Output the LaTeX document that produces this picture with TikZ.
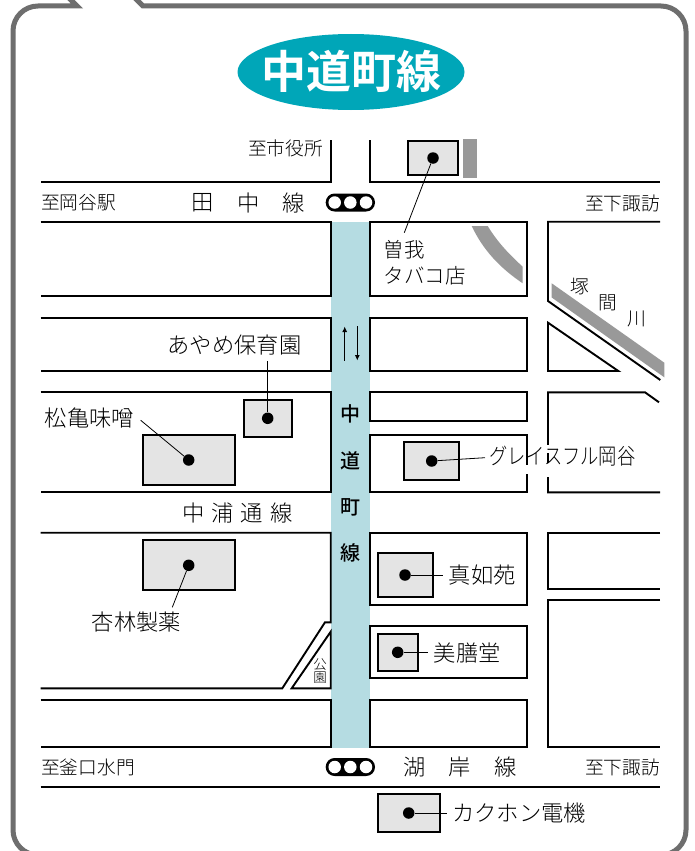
\documentclass[tikz,border=0pt]{standalone}
\usetikzlibrary{shapes.geometric,arrows.meta}
\usepackage{graphicx}
\usepackage{fontspec}
\setmainfont{Noto Sans CJK JP Light}
\newfontfamily\jpb{Noto Sans CJK JP Bold}
\newfontfamily\jpm{Noto Sans CJK JP Medium}
\definecolor{frameg}{HTML}{6E6E6E}
\definecolor{riverg}{HTML}{999999}
\definecolor{bldg}{HTML}{E4E4E4}
\definecolor{teal}{HTML}{00A6B8}
\definecolor{roadb}{HTML}{B5DCE2}
\newcommand{\fs}[1]{\fontsize{#1}{#1}\selectfont}
\tikzset{
  road/.style={draw=black,line width=1.9pt,line join=miter},
  bld/.style={draw=black,fill=bldg,line width=1.9pt},
  dotmark/.style={circle,fill=black,inner sep=0pt,minimum size=11.5pt},
  leader/.style={draw=black,line width=0.8pt},
  lab/.style={inner sep=0pt,font=\fs{22.3}},
  small/.style={inner sep=0pt,font=\fs{18.7}},
  sigbody/.style={fill=black,rounded corners=8.9pt},
  siglamp/.style={circle,fill=white,inner sep=0pt,minimum size=12.5pt},
}
\begin{document}
\begin{tikzpicture}[x=1pt,y=-1pt]
\useasboundingbox (0,0) rectangle (695,851);
\fill[white] (0,0) rectangle (695,851);
% frame
\draw[frameg,line width=5pt,line join=miter]
  (68,-3) -- (77,6) -- (38,6) arc[start angle=270,end angle=180,radius=25] -- (13,830)
  arc[start angle=180,end angle=90,radius=25] -- (661,855)
  arc[start angle=90,end angle=0,radius=25] -- (686,31)
  arc[start angle=0,end angle=-90,radius=25] -- (143,6) -- (134,-3);
% title
\node[ellipse,fill=teal,minimum width=227pt,minimum height=76pt,inner sep=0pt] (title) at (351,72) {};
\node[inner sep=0pt,text=white,font=\jpb\fs{45}] (titletext) at (351,71) {中道町線};
% blue road
\fill[roadb] (331,222) rectangle (370.3,748);
% rivers
\fill[riverg] (551.7,283.3) -- (664.3,362.7) -- (664.3,377.3) -- (551.7,297.5) -- cycle;
\fill[riverg] (471.7,226) -- (487.7,226) .. controls (498,243) and (510,255) .. (522.7,266.7) -- (522.7,283.3) .. controls (500,268) and (483,250) .. (471.7,226) -- cycle;
\fill[riverg] (463,139) rectangle (477,177.7);
% left roads
\draw[road] (330.7,140) -- (330.7,182) -- (40.5,182);
\draw[road] (40.5,221.7) -- (330.7,221.7) -- (330.7,295.7) -- (40.5,295.7);
\draw[road] (40.5,317.7) -- (330.7,317.7) -- (330.7,370.7) -- (40.5,370.7);
\draw[road] (40.5,392.3) -- (330.7,392.3) -- (330.7,492.3) -- (40.5,492.3);
\draw[road] (40.5,532.7) -- (330.7,532.7) -- (330.7,622.3) -- (325,622.3) -- (282.3,688.3) -- (40.5,688.3);
\draw[road] (330.7,631.7) -- (291.7,688.3) -- (330.7,688.3) -- cycle;
\draw[road] (40.5,699.7) -- (330.7,699.7) -- (330.7,747.3) -- (40.5,747.3);
\draw[road] (40.5,787) -- (660,787);
% centre-right blocks
\draw[road] (370.3,140) -- (370.3,182) -- (660,182);
\draw[road] (370.3,221.7) rectangle (527,295.7);
\draw[road] (370.3,317.7) rectangle (527,370.7);
\draw[road] (370.3,392.3) rectangle (527,421);
\draw[road] (370.3,435) rectangle (527,492.3);
\draw[road] (370.3,532.7) rectangle (527,605);
\draw[road] (370.3,626) rectangle (527,678.3);
\draw[road] (370.3,699.7) rectangle (527,747.3);
% far-right blocks
\draw[road] (660,221.7) -- (548,221.7) -- (548,301) -- (660.3,380);
\draw[road] (548,322.7) -- (618.3,371) -- (548,371) -- cycle;
\draw[road] (659,402.3) -- (645,392.3) -- (548,392.3) -- (548,492.3) -- (660,492.3);
\draw[road] (660,532.7) -- (548,532.7) -- (548,589) -- (660,589);
\draw[road] (660,600.3) -- (548,600.3) -- (548,747.3) -- (660,747.3);
% halo gaps for the label crossing two roads
\fill[white] (525,465) rectangle (529,474);
\fill[white] (546,445) rectangle (550,453);
\fill[white] (546,463) rectangle (550,477);
% buildings
\draw[bld] (407.7,141.3) rectangle (457.7,174.7);
\draw[bld] (244,399.7) rectangle (291.7,437);
\draw[bld] (142.7,435) rectangle (235,485.3);
\draw[bld] (142.7,540) rectangle (235,590);
\draw[bld] (404.3,442.3) rectangle (459,479.7);
\draw[bld] (377.7,553.3) rectangle (432.7,597.3);
\draw[bld] (377.7,633.7) rectangle (417.7,671);
\draw[bld] (377.7,794) rectangle (440,831.7);
% dots
\node[dotmark] (dsoga) at (433,158) {};
\node[dotmark] (dayame) at (267.7,418.3) {};
\node[dotmark] (dmatsu) at (188.7,460) {};
\node[dotmark] (dkyo) at (188.7,565.3) {};
\node[dotmark] (dgrace) at (431.7,461) {};
\node[dotmark] (dshin) at (405,575) {};
\node[dotmark] (dbi) at (397.7,652.3) {};
\node[dotmark] (dkaku) at (408.7,813) {};
% leader free ends
\coordinate (esoga) at (404.3,232.7);
\coordinate (eayame) at (267.7,360.7);
\coordinate (ematsu) at (140.7,420.3);
\coordinate (ekyo) at (172.3,607.3);
\coordinate (egrace) at (485,457.7);
\coordinate (eshin) at (443.3,575);
\coordinate (ebi) at (427.7,652.3);
\coordinate (ekaku) at (446.7,813);
\draw[leader] (dsoga) -- (esoga);
\draw[leader] (dayame) -- (eayame);
\draw[leader] (dmatsu) -- (ematsu);
\draw[leader] (dkyo) -- (ekyo);
\draw[leader] (dgrace) -- (egrace);
\draw[leader] (dshin) -- (eshin);
\draw[leader] (dbi) -- (ebi);
\draw[leader] (dkaku) -- (ekaku);
% signals
\fill[sigbody] (325.7,193.5) rectangle (375,211.5);
\node[siglamp] (s1a) at (334.7,202.5) {};
\node[siglamp] (s1b) at (350.3,202.5) {};
\node[siglamp] (s1c) at (366,202.5) {};
\fill[sigbody] (325.7,758) rectangle (375,776);
\node[siglamp] (s2a) at (334.7,767) {};
\node[siglamp] (s2b) at (350.3,767) {};
\node[siglamp] (s2c) at (366,767) {};
% one-way arrows
\coordinate (au1) at (344.7,360.7);
\coordinate (au2) at (344.7,326.5);
\coordinate (ad1) at (357.3,326);
\coordinate (ad2) at (357.3,360.5);
\draw[line width=0.9pt,-{Latex[length=5.5pt,width=5pt]}] (au1) -- (au2);
\draw[line width=0.9pt,-{Latex[length=5.5pt,width=5pt]}] (ad1) -- (ad2);
% texts
\node[small,anchor=east] (t1) at (323,148) {至市役所};
\node[small,anchor=west] (t2) at (41,203) {至岡谷駅};
\node[small,anchor=east] (t3) at (660,203) {至下諏訪};
\node[small,anchor=east] (t4) at (660,767) {至下諏訪};
\node[small,anchor=west] (t5) at (41,767) {至釜口水門};
\node[lab] (ta1) at (203,203) {田};
\node[lab] (ta2) at (249,203) {中};
\node[lab] (ta3) at (294,203) {線};
\node[lab] (tb1) at (414.5,767) {湖};
\node[lab] (tb2) at (460,767) {岸};
\node[lab] (tb3) at (506,767) {線};
\node[lab] (tc1) at (193.5,513) {中};
\node[lab] (tc2) at (222.5,513) {浦};
\node[lab] (tc3) at (251.5,513) {通};
\node[lab] (tc4) at (282,513) {線};
\node[inner sep=0pt,anchor=west,font=\fs{20.5}] (tsoga1) at (383.5,250) {曽我};
\node[inner sep=0pt,anchor=west,font=\fs{20.5}] (tsoga2) at (383.5,276) {タバコ店};
\node[small] (tr1) at (580,287) {塚};
\node[small] (tr2) at (608,303) {間};
\node[small] (tr3) at (637,319) {川};
\node[lab,anchor=east] (tayame) at (301.5,345) {あやめ保育園};
\node[lab,anchor=west] (tmatsu) at (44.5,418) {松亀味噌};
\node[lab,anchor=west] (tkyo) at (91.5,622) {杏林製薬};
\node[lab,anchor=west] (tgrace) at (489.5,456) {\scalebox{0.82}[1]{グレイスフル岡谷}};
\node[lab,anchor=west] (tshin) at (448.5,575) {真如苑};
\node[lab,anchor=west] (tbi) at (433.5,653) {美膳堂};
\node[lab,anchor=west] (tkaku) at (452,813) {カクホン電機};
\foreach \ch/\yy/\nm in {中/414/v1,道/461/v2,町/507/v3,線/553/v4}
  \node[inner sep=0pt,font=\jpm\fs{20}] (\nm) at (350.3,\yy) {\ch};
\node[inner sep=0pt,font=\fs{13.5}] (p1) at (320,665) {公};
\node[inner sep=0pt,font=\fs{13.5}] (p2) at (320,678) {園};
\end{tikzpicture}
\end{document}
